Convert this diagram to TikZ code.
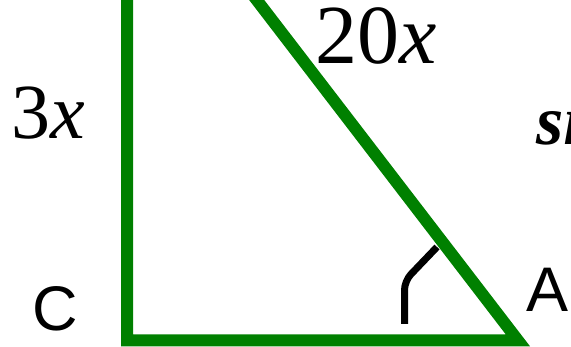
\documentclass[tikz,border=0pt]{standalone}
\usepackage{fontspec}
\setmainfont{Liberation Serif}
\newfontfamily\sansfont{Liberation Sans}
\usepackage{tikz}
\usetikzlibrary{positioning, calc}
\definecolor{sidegreen}{RGB}{0,128,0}

\begin{document}
\begin{tikzpicture}[
    x=1pt, y=-1pt,
    side/.style={draw=sidegreen, line width=12pt, line join=miter},
    anglemark/.style={draw=black, line width=7pt, rounded corners=9pt},
    sidelabel/.style={inner sep=0pt, anchor=base west},
    vertexlabel/.style={inner sep=0pt, anchor=base west, font=\sansfont\fontsize{63}{63}\selectfont}
]
\useasboundingbox (0,0) rectangle (571,347);
\clip (0,0) rectangle (571,347);

% Vertices
\coordinate (B) at (127,-169);
\coordinate (C) at (127,340.5);
\coordinate (A) at (518,340.5);

% Triangle
\draw[side] (B) -- (C) -- (A) -- cycle;

% Angle at A
\coordinate (m1) at (404.5,324);
\coordinate (m2) at (404.5,281);
\coordinate (m3) at (437,247);
\draw[anglemark] (m1) -- (m2) -- (m3);

% Labels
\node[sidelabel, font=\fontsize{78}{78}\selectfont] (lbl3x) at (11,139) {3\textit{x}};
\node[sidelabel, font=\fontsize{84}{84}\selectfont] (lbl20x) at (315,64) {20\textit{x}};
\node[sidelabel, font=\fontsize{70}{70}\selectfont] (lblsin) at (536,145) {\textbf{\textit{si}}};
\node[vertexlabel] (lblC) at (32,331) {C};
\node[vertexlabel] (lblA) at (526,312) {A};
\end{tikzpicture}
\end{document}
